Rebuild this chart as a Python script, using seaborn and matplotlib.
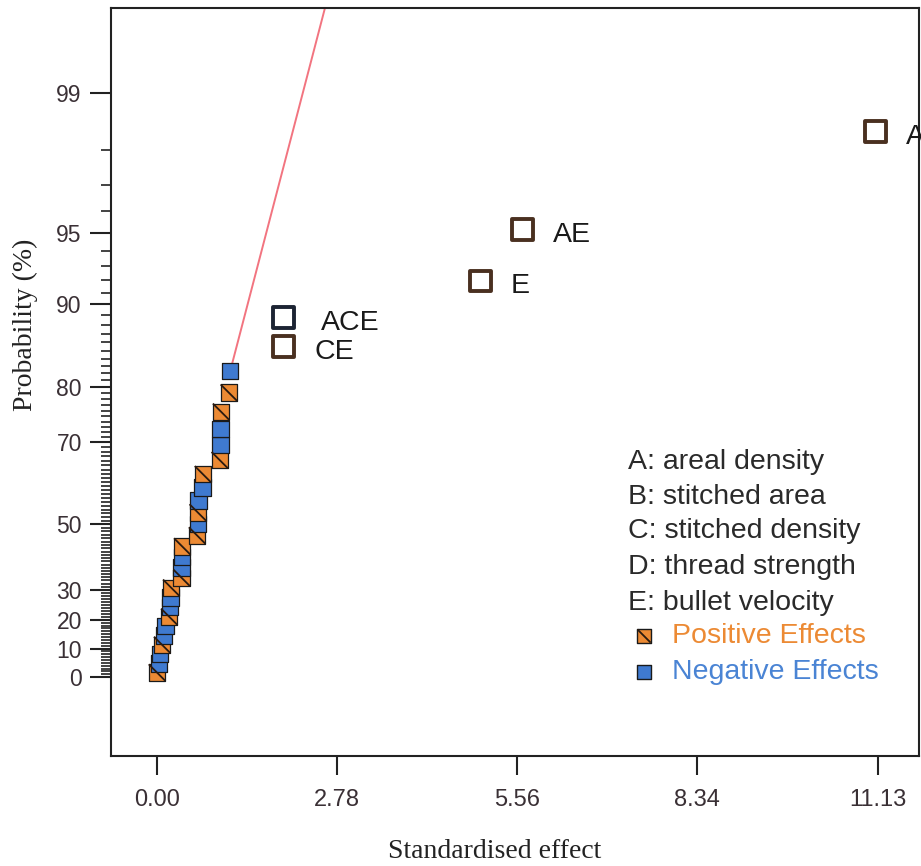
import matplotlib
matplotlib.use('Agg')
import matplotlib.pyplot as plt
import seaborn as sns
import pandas as pd
from statistics import NormalDist
from matplotlib.path import Path

# ---------------- data ----------------
small_effects = [0.00, 0.03, 0.05, 0.08, 0.11, 0.13, 0.19, 0.20, 0.21, 0.22,
                 0.38, 0.38, 0.39, 0.39, 0.62, 0.63, 0.63, 0.64, 0.70, 0.71,
                 0.97, 0.98, 0.98, 0.99, 1.11, 1.13]
small_probs = [1.61, 4.84, 8.06, 11.29, 14.52, 17.74, 20.97, 24.19, 27.42, 30.65,
               33.87, 37.10, 40.32, 43.55, 46.77, 50.00, 53.23, 56.45, 59.68, 62.90,
               66.13, 69.35, 72.58, 75.81, 79.03, 82.26]
small_signs = ['Positive', 'Negative', 'Negative', 'Positive', 'Negative', 'Negative',
               'Positive', 'Negative', 'Negative', 'Positive', 'Positive', 'Negative',
               'Negative', 'Positive', 'Positive', 'Negative', 'Positive', 'Negative',
               'Negative', 'Positive', 'Positive', 'Negative', 'Negative', 'Positive',
               'Positive', 'Negative']

label_names = ['CE', 'ACE', 'E', 'AE', 'A']
label_effects = [1.96, 1.96, 4.99, 5.64, 11.10]
label_probs = [85.48, 88.71, 91.94, 95.16, 98.39]
label_signs = ['Positive', 'Negative', 'Positive', 'Positive', 'Positive']

line_effects = [1.13, 2.75]
line_probs = [82.26, 99.82]

x_ticks = [0.00, 2.78, 5.56, 8.34, 11.13]
x_tick_labels = ['0.00', '2.78', '5.56', '8.34', '11.13']
y_ticks = [0, 10, 20, 30, 50, 70, 80, 90, 95, 99]
y_minor = [p for p in range(1, 99) if p not in y_ticks]

factor_lines = ['A: areal density', 'B: stitched area', 'C: stitched density',
                'D: thread strength', 'E: bullet velocity']
effect_legend = ['Positive Effects', 'Negative Effects']

# ---------------- style ----------------
ORANGE = '#ec8a34'
BLUE = '#3f7ad0'
EDGE = {'Positive': '#4a3020', 'Negative': '#1c2433'}

sns.set_style('ticks')
plt.rcParams['font.family'] = ['Liberation Sans', 'DejaVu Sans']


def zq(p):
    return NormalDist().inv_cdf(0.5 + p / 200.0)


df = pd.DataFrame({'effect': small_effects, 'prob': small_probs, 'sign': small_signs})
df['z'] = df['prob'].map(zq)
lab = pd.DataFrame({'name': label_names, 'effect': label_effects,
                    'prob': label_probs, 'sign': label_signs})
lab['z'] = lab['prob'].map(zq)

fig = plt.figure(figsize=(9.21, 8.66), dpi=100)
ax = fig.add_axes([111 / 921, 1 - 756 / 866, 808 / 921, 748 / 866])

# fit line
ax.plot(line_effects, [zq(p) for p in line_probs], color='#f27480', lw=1.4, zorder=2)

# small effects
sns.scatterplot(data=df, x='effect', y='z', hue='sign',
                palette={'Positive': ORANGE, 'Negative': BLUE},
                marker='s', s=140, edgecolor='#1a1a1a', linewidth=0.9,
                legend=False, ax=ax, zorder=3)
diag = Path([(-1, 1), (1, -1)], [Path.MOVETO, Path.LINETO])
pos = df[df['sign'] == 'Positive']
ax.scatter(pos['effect'], pos['z'], marker=diag, s=140, facecolors='none',
           edgecolors='#2a1a10', linewidths=1.3, zorder=4)

# labelled effects
ax.scatter(lab['effect'], lab['z'], marker='s', s=15 ** 2, facecolors='white',
           edgecolors=[EDGE[s] for s in lab['sign']], linewidths=2.8, zorder=5)
for _, r in lab.iterrows():
    dx = 27 if r['name'] == 'ACE' else 22
    ax.annotate(r['name'], (r['effect'], r['z']), xytext=(dx, -4),
                textcoords='offset points', ha='left', va='center',
                fontsize=20.5, color='#1a1a1a', annotation_clip=False)

# axes
ax.set_xlim(-0.71, 11.768)
ax.set_ylim(-0.348, 2.951)
ax.set_xticks(x_ticks)
ax.set_xticklabels(x_tick_labels, family=['Liberation Sans Narrow', 'Liberation Sans'],
                   fontsize=17, color='#3a3035')
ax.set_yticks([zq(p) for p in y_ticks])
ax.set_yticklabels([str(p) for p in y_ticks], fontsize=16.5, color='#3a3035')
ax.set_yticks([zq(p) for p in y_minor], minor=True)
ax.tick_params(axis='x', which='major', bottom=True, direction='out', length=14,
               width=1.5, color='#222222', pad=10)
ax.tick_params(axis='y', which='major', left=True, direction='out', length=15,
               width=1.5, color='#222222', pad=6)
ax.tick_params(axis='y', which='minor', left=True, direction='out', length=7,
               width=1.2, color='#222222')
for sp in ax.spines.values():
    sp.set_visible(True)
    sp.set_linewidth(1.5)
    sp.set_color('#222222')
ax.set_xlabel('')
ax.set_ylabel('')

fig.text(495 / 921, 1 - 852 / 866, 'Standardised effect', family='Liberation Serif',
         fontsize=20, ha='center', va='center', color='#222222')
fig.text(25 / 921, 1 - 325 / 866, 'Probability (%)', family='Liberation Serif',
         fontsize=20, ha='center', va='center', rotation=90, color='#222222')

# factor legend
fy = [0.393, 0.3463, 0.3008, 0.2527, 0.2045]
for t, y in zip(factor_lines, fy):
    ax.text(0.6399, y, t, transform=ax.transAxes, fontsize=20.5, color='#2a2a2a',
            ha='left', va='center')
ey = [0.1604, 0.1123]
ecol = [ORANGE, '#4a84d4']
efill = [ORANGE, BLUE]
for t, y, c, f in zip(effect_legend, ey, ecol, efill):
    ax.scatter([0.6597], [y], transform=ax.transAxes, marker='s', s=90,
               facecolors=f, edgecolors='#1a1a1a', linewidths=1.0, zorder=6,
               clip_on=False)
    ax.text(0.694, y, t, transform=ax.transAxes, fontsize=20.5, color=c,
            ha='left', va='center')
ax.scatter([0.6597], [ey[0]], transform=ax.transAxes, marker=diag, s=90,
           facecolors='none', edgecolors='#2a1a10', linewidths=1.3, zorder=7,
           clip_on=False)

fig.savefig('out.png', dpi=100)
